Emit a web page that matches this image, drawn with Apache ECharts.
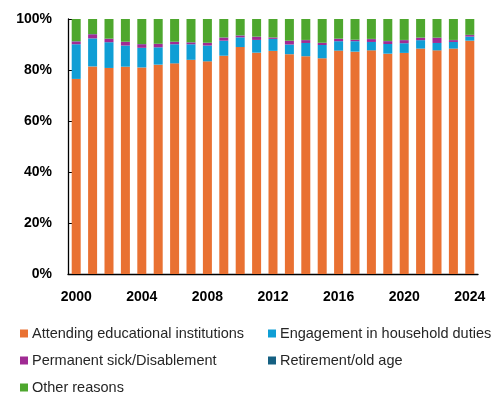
<!DOCTYPE html>
<html>
<head>
<meta charset="utf-8">
<script src="https://cdn.jsdelivr.net/npm/echarts@6/dist/echarts.min.js"></script>
<style>
  html, body { margin: 0; padding: 0; background: #fff; }
  #chart { width: 494px; height: 395px; }
</style>
</head>
<body>
<div id="chart"></div>
<script>
// Share of persons not in the labour force, by reason (%)
const years = ['2000','2001','2002','2003','2004','2005','2006','2007','2008','2009',
  '2010','2011','2012','2013','2014','2015','2016','2017','2018','2019',
  '2020','2021','2022','2023','2024'];

const education = [76.5, 81.4, 80.8, 81.3, 81.0, 82.1, 82.6, 84.0, 83.4, 85.6,
  89.0, 86.8, 87.5, 86.2, 85.4, 84.6, 87.6, 87.2, 87.7, 86.4,
  86.7, 88.4, 87.7, 88.4, 91.5];
const household = [13.6, 11.0, 10.1, 8.3, 7.7, 6.8, 7.5, 6.1, 6.2, 5.9,
  3.8, 5.0, 4.7, 3.8, 5.2, 5.2, 3.7, 4.1, 3.3, 3.8,
  3.8, 3.3, 2.9, 2.6, 1.6];
const sick = [1.1, 1.6, 1.3, 1.4, 1.4, 1.3, 0.9, 0.7, 1.0, 1.2,
  0.7, 1.2, 0.5, 1.4, 1.1, 0.8, 0.9, 0.5, 1.1, 1.1,
  1.2, 0.9, 2.0, 0.7, 0.6];
const retirement = [0.1, 0.1, 0.1, 0.1, 0.1, 0.1, 0.1, 0.1, 0.1, 0.1,
  0.1, 0.1, 0.1, 0.1, 0.1, 0.1, 0.1, 0.1, 0.1, 0.1,
  0.1, 0.1, 0.1, 0.1, 0.1];
const other = [8.7, 5.9, 7.7, 8.9, 9.8, 9.7, 8.9, 9.1, 9.3, 7.2,
  6.4, 6.9, 7.2, 8.5, 8.2, 9.3, 7.7, 8.1, 7.8, 8.6,
  8.2, 7.3, 7.3, 8.2, 6.2];

const yTicks = [0, 20, 40, 60, 80, 100];

const seriesDefs = [
  { name: 'Attending educational institutions', data: education, color: '#E97132' },
  { name: 'Engagement in household duties', data: household, color: '#0F9ED5' },
  { name: 'Permanent sick/Disablement', data: sick, color: '#A02B93' },
  { name: 'Retirement/old age', data: retirement, color: '#156082' },
  { name: 'Other reasons', data: other, color: '#4EA72E' }
];

const font = 'Arial, "Liberation Sans", sans-serif';
const chart = echarts.init(document.getElementById('chart'), null, { renderer: 'canvas' });

// Legend laid out as a two-column grid: one legend box per entry
const legendSlots = [
  { left: 20, top: 326 },   // education
  { left: 268, top: 326 },  // household
  { left: 20, top: 353 },   // sick
  { left: 268, top: 353 },  // retirement
  { left: 20, top: 380 }    // other
];
const legends = seriesDefs.map((s, i) => ({
  data: [s.name],
  left: legendSlots[i].left, top: legendSlots[i].top,
  padding: 0, itemWidth: 8, itemHeight: 8, itemGap: 0, icon: 'rect',
  textStyle: { fontFamily: font, fontSize: 14.5, color: '#262626', padding: [0, 0, 0, -1] }
}));

chart.setOption({
  animation: false,
  grid: { left: 68, top: 19, width: 410, height: 255, containLabel: false },
  xAxis: {
    type: 'category',
    data: years,
    boundaryGap: true,
    axisLine: { lineStyle: { color: '#000', width: 1.3 } },
    axisTick: { inside: true, length: 5, interval: 3, lineStyle: { color: '#000' } },
    axisLabel: {
      interval: 3, margin: 16,
      fontFamily: font, fontSize: 14, fontWeight: 'bold', color: '#000'
    }
  },
  yAxis: {
    type: 'value',
    min: yTicks[0], max: yTicks[yTicks.length - 1], interval: 20,
    axisLine: { show: true, lineStyle: { color: '#000', width: 1.3 } },
    axisTick: { show: true, inside: true, length: 5, lineStyle: { color: '#000' } },
    splitLine: { show: false },
    axisLabel: {
      margin: 16,
      fontFamily: font, fontSize: 14, fontWeight: 'bold', color: '#000',
      formatter: v => v + '%'
    }
  },
  legend: legends,
  series: seriesDefs.map(s => ({
    name: s.name,
    type: 'bar',
    stack: 'total',
    barWidth: 9,
    data: s.data,
    itemStyle: { color: s.color }
  }))
});
</script>
</body>
</html>
